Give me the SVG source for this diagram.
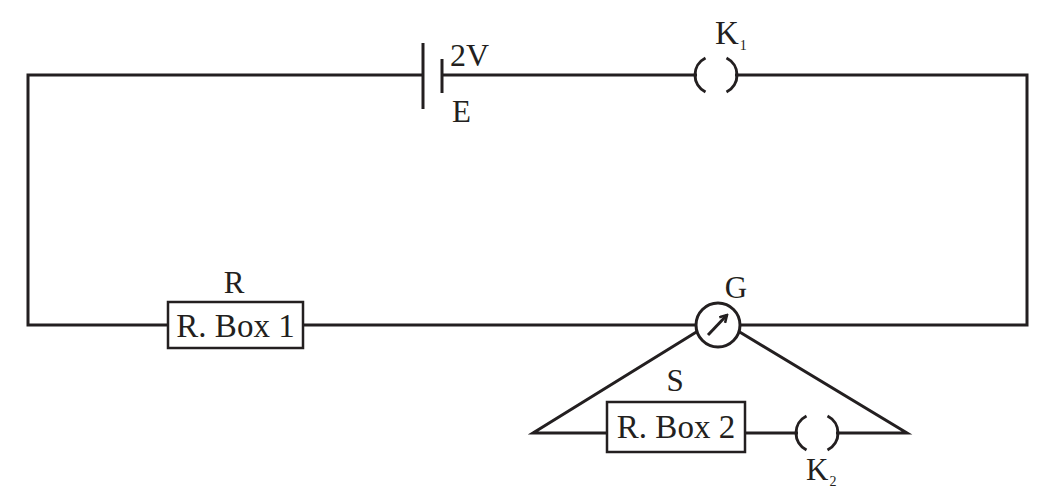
<svg xmlns="http://www.w3.org/2000/svg" width="1044" height="496" viewBox="0 0 1044 496">
<style>
.w{fill:none;stroke:#231f20;stroke-width:3;stroke-linecap:butt;stroke-linejoin:miter}
.box{fill:#fff;stroke:#231f20;stroke-width:2.5}
.t{font-family:"Liberation Serif","Times New Roman",serif;fill:#231f20;font-size:31px}
.bt{font-size:33px}
.sub{font-size:14px}
</style>
<defs>
<marker id="ah" markerWidth="10" markerHeight="10" refX="8" refY="5" orient="auto" markerUnits="userSpaceOnUse">
<path d="M1,1 L8,5 L1,9" fill="none" stroke="#231f20" stroke-width="2.5"/>
</marker>
</defs>
<rect width="1044" height="496" fill="#fff"/>
<g id="connectors">
<path class="w" d="M423,75 H28 V325 H168"/>
<path class="w" d="M442,75 H697"/>
<path class="w" d="M735,75 H1027 V325 H740"/>
<path class="w" d="M303,325 H696"/>
<path class="w" d="M698,331 L533,433 H607"/>
<path class="w" d="M738,331 L907,433 H836"/>
<path class="w" d="M745,433 H798"/>
</g>
<g id="battery">
<line class="w" x1="423" y1="43" x2="423" y2="109"/>
<line class="w" x1="442" y1="59" x2="442" y2="93"/>
<text class="t" x="450" y="66" style="font-size:32px">2V</text>
<text class="t" x="452" y="122">E</text>
</g>
<g id="K1">
<path class="w" d="M705.5,58 A19,19 0 0 0 705.5,92"/>
<path class="w" d="M726.5,58 A19,19 0 0 1 726.5,92"/>
<text class="t" x="715" y="44" style="font-size:33px">K<tspan class="sub" dx="1" dy="6">1</tspan></text>
</g>
<g id="Rbox1">
<rect class="box" x="168" y="302" width="135" height="46"/>
<text class="t bt" x="235.5" y="337" text-anchor="middle">R. Box 1</text>
<text class="t" x="234" y="293" text-anchor="middle">R</text>
</g>
<g id="G">
<circle cx="718" cy="325" r="22" fill="#fff" stroke="#231f20" stroke-width="3"/>
<line x1="708" y1="335" x2="727" y2="315" stroke="#231f20" stroke-width="3" marker-end="url(#ah)"/>
<text class="t" x="736" y="298" text-anchor="middle">G</text>
</g>
<g id="Rbox2">
<rect class="box" x="607" y="402" width="138" height="50"/>
<text class="t bt" x="676" y="438" text-anchor="middle">R. Box 2</text>
<text class="t" x="675" y="391" text-anchor="middle">S</text>
</g>
<g id="K2">
<path class="w" d="M806.5,416 A19,19 0 0 0 806.5,450"/>
<path class="w" d="M827.5,416 A19,19 0 0 1 827.5,450"/>
<text class="t" x="806" y="480">K<tspan class="sub" dx="1" dy="6">2</tspan></text>
</g>
</svg>
